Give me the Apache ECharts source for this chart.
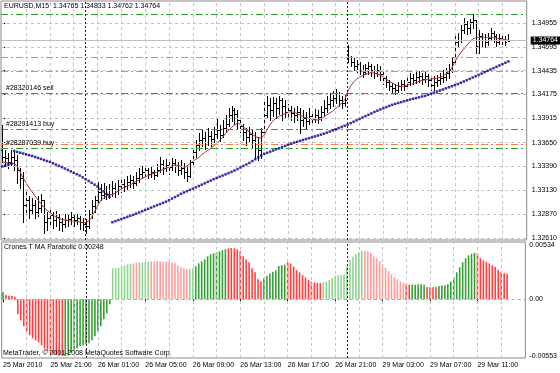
<!DOCTYPE html>
<html><head><meta charset="utf-8">
<script src="https://cdn.jsdelivr.net/npm/echarts@6/dist/echarts.min.js"></script>
<style>html,body{margin:0;padding:0;background:#fff}#c{width:560px;height:373px}</style>
</head><body><div id="c"></div>
<script>
const symbolName = 'EURUSD,M15';
const indicatorName = 'Crones T MA Parabolic';
const copyrightText = 'MetaTrader, © 2001-2008 MetaQuotes Software Corp.';
const timeTickBars = [0,16,32,48,64,80,96,112,128,144,160];
const timeTickLabels = ['25 Mar 2010','25 Mar 21:00','26 Mar 01:00','26 Mar 05:00','26 Mar 09:00','26 Mar 13:00','26 Mar 17:00','26 Mar 21:00','29 Mar 03:00','29 Mar 07:00','29 Mar 11:00'];
const priceTicks = [1.34955,1.34695,1.34435,1.34175,1.33915,1.33650,1.33390,1.33130,1.32870,1.32610];
const indTicks = [0.00534,0,-0.00553];
const dayBreaks = [28,116];
const orderLevels = [1.35053,1.34186,1.33796,1.33588];
const orderNames = ['','#28320146 sell','#28291413 buy','#28287039 buy'];
const stopLevels = [1.34581,1.34431,1.33632];
const bidPrice = 1.34764;

const opens = [1.33570,1.33494,1.33483,1.33440,1.33494,1.33461,1.33352,1.33265,1.32971,1.33025,
1.32915,1.32971,1.32894,1.32938,1.33025,1.32785,1.32828,1.32861,1.32806,1.32839,
1.32785,1.32763,1.32806,1.32817,1.32839,1.32806,1.32828,1.32785,1.32763,1.32741,
1.32872,1.32960,1.33025,1.33113,1.33080,1.33134,1.33091,1.33134,1.33156,1.33134,
1.33178,1.33200,1.33178,1.33222,1.33243,1.33211,1.33265,1.33309,1.33331,1.33352,
1.33309,1.33331,1.33298,1.33352,1.33418,1.33374,1.33407,1.33385,1.33429,1.33396,
1.33352,1.33374,1.33331,1.33287,1.33440,1.33549,1.33625,1.33679,1.33701,1.33658,
1.33723,1.33690,1.33745,1.33788,1.33734,1.33810,1.33854,1.33952,1.34006,1.33963,
1.33897,1.33832,1.33767,1.33712,1.33745,1.33679,1.33592,1.33570,1.33767,1.33952,
1.34061,1.34006,1.34083,1.34028,1.34115,1.34050,1.33985,1.34006,1.33974,1.33952,
1.33985,1.33897,1.33919,1.33886,1.33941,1.33908,1.33952,1.33930,1.33985,1.34028,
1.34072,1.34115,1.34137,1.34181,1.34115,1.34083,1.34661,1.34584,1.34530,1.34486,
1.34508,1.34442,1.34421,1.34464,1.34486,1.34442,1.34410,1.34442,1.34399,1.34355,
1.34312,1.34268,1.34246,1.34224,1.34268,1.34290,1.34268,1.34312,1.34355,1.34333,
1.34366,1.34377,1.34344,1.34377,1.34333,1.34279,1.34312,1.34333,1.34355,1.34366,
1.34410,1.34442,1.34530,1.34748,1.34770,1.34879,1.34944,1.34900,1.34966,1.34988,
1.34704,1.34813,1.34770,1.34748,1.34791,1.34846,1.34813,1.34748,1.34791,1.34770,
1.34765];
const highs = [1.33843,1.33570,1.33538,1.33570,1.33549,1.33516,1.33374,1.33331,1.33113,1.33069,
1.33047,1.33025,1.33069,1.33091,1.33025,1.32894,1.32915,1.32894,1.32904,1.32872,
1.32828,1.32872,1.32861,1.32894,1.32872,1.32872,1.32850,1.32828,1.32817,1.32915,
1.33025,1.33069,1.33222,1.33200,1.33211,1.33178,1.33200,1.33232,1.33211,1.33243,
1.33265,1.33254,1.33287,1.33298,1.33287,1.33331,1.33374,1.33396,1.33407,1.33374,
1.33385,1.33352,1.33418,1.33494,1.33461,1.33472,1.33450,1.33483,1.33472,1.33440,
1.33461,1.33429,1.33407,1.33461,1.33592,1.33679,1.33756,1.33788,1.33767,1.33810,
1.33777,1.33821,1.33919,1.33843,1.33897,1.33952,1.34028,1.34050,1.34028,1.34006,
1.33919,1.33854,1.33810,1.33821,1.33788,1.33767,1.33712,1.33810,1.34115,1.34159,
1.34137,1.34148,1.34137,1.34159,1.34137,1.34115,1.34072,1.34050,1.34028,1.34050,
1.34028,1.34006,1.33985,1.34028,1.33995,1.34017,1.34006,1.34050,1.34115,1.34159,
1.34192,1.34213,1.34235,1.34203,1.34159,1.34170,1.34715,1.34595,1.34573,1.34552,
1.34530,1.34497,1.34508,1.34530,1.34508,1.34486,1.34508,1.34486,1.34421,1.34377,
1.34333,1.34301,1.34290,1.34312,1.34333,1.34333,1.34355,1.34410,1.34399,1.34421,
1.34431,1.34410,1.34431,1.34399,1.34355,1.34377,1.34388,1.34410,1.34442,1.34464,
1.34508,1.34584,1.34846,1.34846,1.34933,1.35010,1.34977,1.34999,1.35053,1.34988,
1.34879,1.34846,1.34835,1.34846,1.34900,1.34868,1.34835,1.34835,1.34824,1.34813,
1.34833];
const lows = [1.33440,1.33396,1.33374,1.33407,1.33352,1.33211,1.33156,1.32785,1.32861,1.32828,
1.32872,1.32828,1.32850,1.32894,1.32665,1.32697,1.32763,1.32719,1.32741,1.32697,
1.32686,1.32730,1.32741,1.32763,1.32741,1.32763,1.32708,1.32697,1.32665,1.32719,
1.32828,1.32894,1.33004,1.33025,1.33047,1.33036,1.33047,1.33069,1.33058,1.33091,
1.33113,1.33123,1.33145,1.33167,1.33156,1.33189,1.33222,1.33265,1.33287,1.33265,
1.33276,1.33254,1.33287,1.33331,1.33309,1.33341,1.33309,1.33352,1.33331,1.33298,
1.33309,1.33265,1.33232,1.33276,1.33407,1.33494,1.33570,1.33614,1.33581,1.33625,
1.33614,1.33658,1.33701,1.33668,1.33712,1.33767,1.33832,1.33886,1.33854,1.33810,
1.33767,1.33679,1.33625,1.33658,1.33592,1.33483,1.33461,1.33483,1.33767,1.33919,
1.33897,1.33941,1.33919,1.33963,1.33897,1.33919,1.33919,1.33897,1.33876,1.33897,
1.33756,1.33832,1.33810,1.33854,1.33854,1.33876,1.33865,1.33897,1.33941,1.33985,
1.34028,1.34050,1.34083,1.34050,1.34028,1.34050,1.34530,1.34486,1.34442,1.34421,
1.34399,1.34366,1.34399,1.34399,1.34377,1.34355,1.34377,1.34333,1.34290,1.34257,
1.34224,1.34192,1.34181,1.34203,1.34224,1.34224,1.34246,1.34279,1.34290,1.34301,
1.34312,1.34290,1.34312,1.34268,1.34224,1.34224,1.34268,1.34290,1.34312,1.34333,
1.34355,1.34421,1.34508,1.34693,1.34748,1.34846,1.34835,1.34846,1.34900,1.34628,
1.34628,1.34704,1.34693,1.34715,1.34770,1.34748,1.34704,1.34726,1.34726,1.34715,
1.34762];
const closes = [1.33494,1.33483,1.33440,1.33494,1.33461,1.33352,1.33265,1.32971,1.33025,1.32915,
1.32971,1.32894,1.32938,1.33025,1.32785,1.32828,1.32861,1.32806,1.32839,1.32785,
1.32763,1.32806,1.32817,1.32839,1.32806,1.32828,1.32785,1.32763,1.32741,1.32872,
1.32960,1.33025,1.33113,1.33080,1.33134,1.33091,1.33134,1.33156,1.33134,1.33178,
1.33200,1.33178,1.33222,1.33243,1.33211,1.33265,1.33309,1.33331,1.33352,1.33309,
1.33331,1.33298,1.33352,1.33418,1.33374,1.33407,1.33385,1.33429,1.33396,1.33352,
1.33374,1.33331,1.33287,1.33440,1.33549,1.33625,1.33679,1.33701,1.33658,1.33723,
1.33690,1.33745,1.33788,1.33734,1.33810,1.33854,1.33952,1.34006,1.33963,1.33897,
1.33832,1.33767,1.33712,1.33745,1.33679,1.33592,1.33570,1.33767,1.33952,1.34061,
1.34006,1.34083,1.34028,1.34115,1.34050,1.33985,1.34006,1.33974,1.33952,1.33985,
1.33897,1.33919,1.33886,1.33941,1.33908,1.33952,1.33930,1.33985,1.34028,1.34072,
1.34115,1.34137,1.34181,1.34115,1.34083,1.34115,1.34584,1.34530,1.34486,1.34508,
1.34442,1.34421,1.34464,1.34486,1.34442,1.34410,1.34442,1.34399,1.34355,1.34312,
1.34268,1.34246,1.34224,1.34268,1.34290,1.34268,1.34312,1.34355,1.34333,1.34366,
1.34377,1.34344,1.34377,1.34333,1.34279,1.34312,1.34333,1.34355,1.34366,1.34410,
1.34442,1.34530,1.34748,1.34770,1.34879,1.34944,1.34900,1.34966,1.34988,1.34704,
1.34813,1.34770,1.34748,1.34791,1.34846,1.34813,1.34748,1.34791,1.34770,1.34748,
1.34764];
const maRed = [1.33440,1.33434,1.33429,1.33425,1.33420,1.33396,1.33331,1.33265,1.33211,1.33156,
1.33113,1.33069,1.33025,1.32982,1.32944,1.32915,1.32888,1.32861,1.32839,1.32823,
1.32812,1.32806,1.32801,1.32795,1.32792,1.32789,1.32785,1.32779,1.32777,1.32795,
1.32834,1.32894,1.32960,1.33014,1.33047,1.33069,1.33080,1.33085,1.33102,1.33123,
1.33145,1.33162,1.33175,1.33189,1.33211,1.33227,1.33243,1.33260,1.33276,1.33292,
1.33303,1.33316,1.33328,1.33341,1.33358,1.33371,1.33383,1.33396,1.33407,1.33401,
1.33390,1.33385,1.33390,1.33420,1.33447,1.33467,1.33489,1.33516,1.33543,1.33565,
1.33587,1.33614,1.33643,1.33673,1.33707,1.33752,1.33783,1.33816,1.33843,1.33861,
1.33848,1.33821,1.33790,1.33767,1.33739,1.33717,1.33701,1.33701,1.33734,1.33794,
1.33848,1.33892,1.33919,1.33935,1.33952,1.33966,1.33979,1.33988,1.33979,1.33968,
1.33952,1.33935,1.33921,1.33914,1.33906,1.33899,1.33897,1.33908,1.33930,1.33952,
1.33974,1.33995,1.34023,1.34050,1.34083,1.34115,1.34203,1.34268,1.34312,1.34344,
1.34363,1.34382,1.34396,1.34406,1.34413,1.34408,1.34399,1.34388,1.34366,1.34339,
1.34320,1.34301,1.34284,1.34270,1.34260,1.34265,1.34277,1.34287,1.34294,1.34305,
1.34316,1.34329,1.34337,1.34341,1.34344,1.34348,1.34352,1.34361,1.34377,1.34399,
1.34426,1.34464,1.34530,1.34584,1.34633,1.34671,1.34710,1.34748,1.34780,1.34794,
1.34797,1.34799,1.34799,1.34799,1.34799,1.34797,1.34791,1.34784,1.34777,1.34770,
1.34766];
const maBlue = [1.33390,1.33401,1.33412,1.33423,1.33559,1.33549,1.33540,1.33531,1.33522,1.33513,
1.33505,1.33494,1.33483,1.33472,1.33461,1.33450,1.33440,1.33425,1.33411,1.33397,
1.33383,1.33368,1.33352,1.33337,1.33321,1.33306,1.33291,1.33271,1.33251,1.33232,
1.33212,1.33192,1.33171,1.33145,1.33118,1.33091,1.33058,1.32782,1.32794,1.32805,
1.32817,1.32828,1.32840,1.32852,1.32863,1.32876,1.32889,1.32902,1.32915,1.32928,
1.32942,1.32955,1.32968,1.32980,1.32993,1.33006,1.33022,1.33040,1.33056,1.33072,
1.33091,1.33106,1.33120,1.33134,1.33148,1.33162,1.33177,1.33191,1.33206,1.33222,
1.33236,1.33251,1.33265,1.33278,1.33291,1.33304,1.33317,1.33331,1.33346,1.33362,
1.33379,1.33396,1.33412,1.33429,1.33449,1.33469,1.33489,1.33509,1.33529,1.33539,
1.33552,1.33564,1.33577,1.33588,1.33602,1.33614,1.33627,1.33639,1.33650,1.33659,
1.33669,1.33679,1.33689,1.33699,1.33708,1.33718,1.33727,1.33737,1.33747,1.33759,
1.33771,1.33784,1.33796,1.33809,1.33821,1.33834,1.33846,1.33862,1.33878,1.33893,
1.33908,1.33924,1.33939,1.33954,1.33969,1.33985,1.33999,1.34012,1.34025,1.34038,
1.34051,1.34063,1.34073,1.34083,1.34092,1.34102,1.34112,1.34120,1.34129,1.34136,
1.34144,1.34153,1.34160,1.34172,1.34184,1.34196,1.34207,1.34219,1.34230,1.34242,
1.34254,1.34265,1.34277,1.34289,1.34303,1.34317,1.34331,1.34345,1.34360,1.34374,
1.34389,1.34403,1.34419,1.34433,1.34448,1.34462,1.34477,1.34492,1.34507,1.34522,
1.34536];
const histValues = [0.00068,0.00042,0.00036,0.00032,0.00026,-0.00146,-0.00205,-0.00263,-0.00312,-0.00351,
-0.00380,-0.00400,-0.00419,-0.00449,-0.00478,-0.00507,-0.00527,-0.00536,-0.00543,-0.00548,
-0.00553,-0.00553,-0.00546,-0.00517,-0.00497,-0.00478,-0.00458,-0.00449,-0.00439,-0.00429,
-0.00400,-0.00361,-0.00312,-0.00263,-0.00195,-0.00137,-0.00049,0.00302,0.00305,0.00309,
0.00322,0.00332,0.00341,0.00348,0.00351,0.00354,0.00358,0.00361,0.00364,0.00368,
0.00368,0.00371,0.00371,0.00368,0.00368,0.00364,0.00364,0.00358,0.00351,0.00332,
0.00312,0.00302,0.00293,0.00293,0.00302,0.00322,0.00351,0.00371,0.00390,0.00419,
0.00439,0.00449,0.00458,0.00468,0.00478,0.00488,0.00497,0.00502,0.00497,0.00488,
0.00468,0.00419,0.00390,0.00361,0.00302,0.00263,0.00195,0.00176,0.00205,0.00231,
0.00251,0.00270,0.00283,0.00325,0.00332,0.00338,0.00361,0.00351,0.00319,0.00286,
0.00263,0.00237,0.00215,0.00188,0.00173,0.00163,0.00159,0.00159,0.00166,0.00173,
0.00188,0.00205,0.00231,0.00237,0.00237,0.00244,0.00329,0.00383,0.00416,0.00439,
0.00458,0.00473,0.00473,0.00468,0.00453,0.00419,0.00400,0.00375,0.00341,0.00309,
0.00276,0.00244,0.00215,0.00195,0.00176,0.00161,0.00149,0.00143,0.00143,0.00143,
0.00146,0.00146,0.00143,0.00120,0.00117,0.00117,0.00120,0.00130,0.00134,0.00137,
0.00146,0.00173,0.00215,0.00263,0.00312,0.00361,0.00400,0.00429,0.00444,0.00453,
0.00449,0.00400,0.00380,0.00366,0.00351,0.00332,0.00317,0.00288,0.00270,0.00254,
0.00248];
// G = rising strong, g = rising weak, R = falling strong, r = falling weak
const histState = (
  'G' + 'RRRRRRRRRRRRRRRRRRRR' + 'GGGGGGGGGGGGGGGG' + 'ggggggg' + 'rr' + 'gggg' +
  'rrrrrrrrrrrrr' + 'gg' + 'GGGGGGGGGGG' + 'RRRRRRRRRRRR' + 'GGGGGGGG' + 'RRRRRRRRRRRR' +
  'gggggggggggggg' + 'rrrrrrrrrrrrrr' + 'RR' + 'GGGGG' + 'RRRR' + 'GGGGGGGGGGGGG' + 'RRRRRRRRRRR'
).split('');

// ---------- presentation ----------
const FONT = "'Liberation Sans', Arial, sans-serif";
const FS = 7;
const stateColor = {G:'#33a033', g:'#92d492', R:'#ff4040', r:'#ff9c9c'};
const gridLine = {color:'#c4c4c4', type:[3,3], width:1};
const dashDot = [7,3,2,3];
const nBars = closes.length;
const last = nBars - 1;
const vGrid = [];
for (let k = 8; k < 176; k += 8) vGrid.push(k);

const ohlc = closes.map((c, i) => [i, opens[i], highs[i], lows[i], c]);

function renderBar(params, api) {
  const i = api.value(0);
  const pO = api.coord([i, api.value(1)]);
  const pH = api.coord([i, api.value(2)]);
  const pL = api.coord([i, api.value(3)]);
  const pC = api.coord([i, api.value(4)]);
  const x = Math.round(pO[0]) + 0.5;
  const yo = Math.round(pO[1]) + 0.5, yc = Math.round(pC[1]) + 0.5;
  const st = {stroke:'#000', lineWidth:1};
  return {type:'group', children:[
    {type:'line', shape:{x1:x, y1:Math.round(pH[1]), x2:x, y2:Math.round(pL[1]) + 1}, style:st},
    {type:'line', shape:{x1:x - 1.5, y1:yo, x2:x - 0.5, y2:yo}, style:st},
    {type:'line', shape:{x1:x + 0.5, y1:yc, x2:x + 1.5, y2:yc}, style:st}
  ]};
}

const noLabel = {show:false};
const mainGridMarks = [
  ...priceTicks.map(v => ({yAxis:v, lineStyle:gridLine, label:noLabel})),
  ...vGrid.map(v => ({xAxis:v, lineStyle:gridLine, label:noLabel}))
];
const orderLabel = (name) => ({show: !!name, formatter: name, position:'insideStartTop', distance:[5,2],
  color:'#000', fontSize:FS, fontFamily:FONT});
const levelMarks = [
  ...stopLevels.map(v => ({yAxis:v, lineStyle:{color:'#ff7f50', type:dashDot, width:1}, label:noLabel})),
  ...orderLevels.map((v, k) => ({yAxis:v, lineStyle:{color:'#2e9e2e', type:dashDot, width:1}, label:orderLabel(orderNames[k])})),
  {yAxis:bidPrice, lineStyle:{color:'#c0c0c0', type:'solid', width:1},
   label:{show:true, position:'end', distance:4, formatter: bidPrice.toFixed(5), color:'#fff', backgroundColor:'#000',
          padding:[1,2,0,2], fontSize:FS, fontFamily:FONT}},
  ...dayBreaks.map(v => ({xAxis:v, lineStyle:{color:'#222', type:[2,2], width:1}, label:noLabel}))
];
const indGridMarks = [
  {yAxis:0, lineStyle:{color:'#a8a8a8', type:[3,3], width:1}, label:noLabel},
  ...vGrid.map(v => ({xAxis:v, lineStyle:gridLine, label:noLabel})),
  ...dayBreaks.map(v => ({xAxis:v, lineStyle:{color:'#222', type:[2,2], width:1}, label:noLabel}))
];

const titleStyle = {fontSize:FS, fontWeight:'normal', color:'#000', fontFamily:FONT};
const header = symbolName + '  ' + [opens[last], highs[last], lows[last], closes[last]].map(v => v.toFixed(5)).join(' ');

const chart = echarts.init(document.getElementById('c'), null, {renderer:'canvas'});
chart.setOption({
  animation:false,
  backgroundColor:'#fff',
  textStyle:{fontFamily:FONT},
  title:[
    {text:header, left:4, top:3, padding:0, textStyle:titleStyle},
    {text:indicatorName + ' ' + histValues[last].toFixed(5), left:4, top:244, padding:0, textStyle:titleStyle},
    {text:copyrightText, left:3, top:350, padding:0, textStyle:titleStyle}
  ],
  grid:[
    {left:1, right:31, top:1, height:239, show:true, borderColor:'#8a8a8a', borderWidth:1},
    {left:1, right:31, top:242, height:116, show:true, borderColor:'#8a8a8a', borderWidth:1}
  ],
  xAxis:[
    {type:'value', gridIndex:0, min:-0.43, max:176.15, show:false, splitLine:{show:false}},
    {type:'value', gridIndex:1, min:-0.43, max:176.15,
     axisLine:{show:false}, splitLine:{show:false},
     axisTick:{show:true, customValues:timeTickBars, length:3, lineStyle:{color:'#000'}},
     axisLabel:{customValues:timeTickBars, formatter:(v) => { const k = timeTickBars.indexOf(Math.round(v)); return k >= 0 ? timeTickLabels[k] : ''; },
       align:'left', fontSize:FS, color:'#000', margin:4, fontFamily:FONT}}
  ],
  yAxis:[
    {type:'value', gridIndex:0, position:'right', min:1.32588, max:1.35195,
     axisLine:{show:false}, splitLine:{show:false},
     axisTick:{show:true, customValues:priceTicks, length:3, lineStyle:{color:'#000'}},
     axisLabel:{customValues:priceTicks, formatter:(v) => v.toFixed(5), fontSize:FS, color:'#000', margin:5, fontFamily:FONT}},
    {type:'value', gridIndex:1, position:'right', min:-0.00572, max:0.00559,
     axisLine:{show:false}, splitLine:{show:false},
     axisTick:{show:false},
     axisLabel:{customValues:indTicks, formatter:(v) => Math.abs(v) < 1e-9 ? '0.00' : v.toFixed(5), fontSize:FS, color:'#000', margin:4, fontFamily:FONT}}
  ],
  series:[
    {type:'line', xAxisIndex:0, yAxisIndex:0, data:[], silent:true, z:1,
     markLine:{silent:true, precision:6, symbol:['none','none'], animation:false, data:mainGridMarks}},
    {type:'line', xAxisIndex:0, yAxisIndex:0, data:[], silent:true, z:2,
     markLine:{silent:true, precision:6, symbol:['none','none'], animation:false, data:levelMarks}},
    {type:'custom', xAxisIndex:0, yAxisIndex:0, data:ohlc, renderItem:renderBar, clip:true, z:3,
     encode:{x:0, y:[1,2,3,4]}, silent:true},
    {type:'line', xAxisIndex:0, yAxisIndex:0, data:maRed.map((v, i) => [i, v]), showSymbol:false, z:4,
     lineStyle:{color:'#b0302a', width:1}, silent:true},
    {type:'scatter', xAxisIndex:0, yAxisIndex:0, data:maBlue.map((v, i) => [i, v]), symbol:'rect', symbolSize:2.5, z:5,
     itemStyle:{color:'#000090'}, silent:true},
    {type:'line', xAxisIndex:1, yAxisIndex:1, data:[], silent:true, z:1,
     markLine:{silent:true, precision:6, symbol:['none','none'], animation:false, data:indGridMarks}},
    {type:'bar', xAxisIndex:1, yAxisIndex:1, barWidth:1.6, z:3, silent:true,
     data:histValues.map((v, i) => ({value:[i, v], itemStyle:{color:stateColor[histState[i]]}}))}
  ]
});
</script>
</body></html>
